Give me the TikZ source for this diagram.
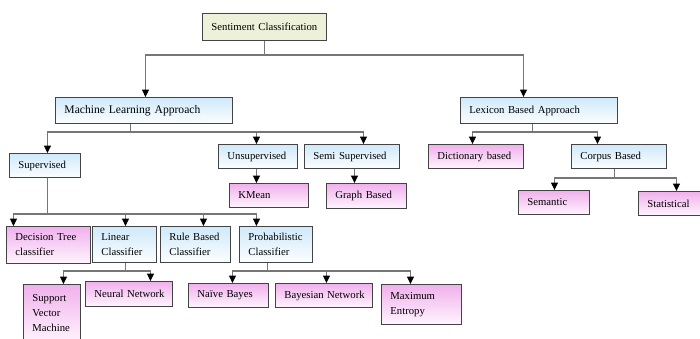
\documentclass[tikz,border=0pt]{standalone}
\usepackage{fontspec}
\setmainfont{Liberation Serif}
\usetikzlibrary{arrows.meta,calc}
\definecolor{pinkT}{HTML}{F0B0EC}
\definecolor{pinkB}{HTML}{FFF4FE}
\definecolor{blueT}{HTML}{CFE9FA}
\definecolor{blueB}{HTML}{FBFEFF}
\definecolor{greenF}{HTML}{EDF1D9}
\definecolor{lineC}{HTML}{767676}
\definecolor{bordC}{HTML}{444444}
\hyphenpenalty=10000
\exhyphenpenalty=10000
\tikzset{
  bx/.style={draw=bordC, line width=0.9pt, anchor=north west, inner xsep=9pt, inner ysep=0pt,
    align=left, font=\fontsize{10.7}{15}\selectfont},
  pk/.style={bx, top color=pinkT, bottom color=pinkB},
  bl/.style={bx, top color=blueT, bottom color=blueB},
  gr/.style={bx, fill=greenF},
  sz/.style 2 args={text width=#1pt, minimum height=#2pt},
  ln/.style={draw=lineC, line width=1.3pt},
  arr/.style={ln, -{Triangle[width=7pt,length=7.5pt,color=black]}}
}
\begin{document}
\begin{tikzpicture}[x=1pt,y=1pt]
\useasboundingbox (0,0) rectangle (700,338);
\clip (0,0) rectangle (700,338);
\fill[white] (0,0) rectangle (700,338);
% nodes (x, 338-y); text width = box width - 18
\node[gr, sz={106}{27}] (sc)   at (202,325) {\mbox{Sentiment Classification}};
\node[bl, sz={159}{26}, font=\fontsize{11.6}{15}\selectfont] (ml) at (55,241) {\mbox{Machine Learning Approach}};
\node[bl, sz={139}{26}] (lex)  at (460,241) {\mbox{Lexicon Based Approach}};
\node[bl, sz={53}{24}]  (sup)  at (9,185)   {Supervised};
\node[bl, sz={61}{24}]  (uns)  at (218,194) {Unsupervised};
\node[bl, sz={77}{24}]  (semi) at (304,194) {\mbox{Semi Supervised}};
\node[pk, sz={61}{24}]  (km)   at (229,155) {KMean};
\node[pk, sz={62}{25}]  (gb)   at (326,155) {\mbox{Graph Based}};
\node[pk, sz={77}{24}]  (dict) at (428,194) {\mbox{Dictionary based}};
\node[bl, sz={77}{24}]  (corp) at (571,194) {\mbox{Corpus Based}};
\node[pk, sz={53}{24}]  (sem)  at (518,148) {Semantic};
\node[pk, sz={46}{24}]  (stat) at (638,147) {Statistical};
\node[pk, sz={66}{37}]  (dt)   at (6,112)   {\mbox{Decision Tree}\\classifier};
\node[bl, sz={46}{36}]  (lin)  at (92,112)  {Linear\\Classifier};
\node[bl, sz={52}{36}]  (rule) at (160,112) {\mbox{Rule Based}\\Classifier};
\node[bl, sz={55}{36}]  (prob) at (239,112) {Probabilistic\\Classifier};
\node[pk, sz={39}{58}]  (svm)  at (23,54)   {Support\\Vector\\Machine};
\node[pk, sz={69}{25}]  (nn)   at (85,57)   {\mbox{Neural Network}};
\node[pk, sz={62}{24}]  (nb)   at (188,55)  {\mbox{Naïve Bayes}};
\node[pk, sz={79}{24}]  (bn)   at (275,55)  {\mbox{Bayesian Network}};
\node[pk, sz={62}{40}]  (me)   at (381,54)  {Maximum\\Entropy};
% connectors
\coordinate (b1) at ($(sc.south)+(0,-14)$);
\draw[ln] (sc.south) -- (b1);
\draw[arr] (b1) -| ([xshift=1.5pt]ml.north);
\draw[arr] (b1) -| ([xshift=-15.5pt]lex.north);
\coordinate (b2) at ($([xshift=-13.5pt]ml.south)+(0,-8)$);
\draw[ln] ([xshift=-13.5pt]ml.south) -- (b2);
\draw[arr] (b2) -| ([xshift=2.5pt]sup.north);
\draw[arr] (b2) -| ([xshift=-1.5pt]uns.north);
\draw[arr] (b2) -| ([xshift=11.5pt]semi.north);
\draw[arr] ([xshift=-1.5pt]uns.south) -- ([xshift=-1.5pt]uns.south |- km.north);
\draw[arr] ([xshift=2.5pt]semi.south) -- ([xshift=2.5pt]semi.south |- gb.north);
\coordinate (b3) at ($([xshift=-6.5pt]lex.south)+(0,-8)$);
\draw[ln] ([xshift=-6.5pt]lex.south) -- (b3);
\draw[arr] (b3) -| ([xshift=-3.5pt]dict.north);
\draw[arr] (b3) -| ([xshift=-21.5pt]corp.north);
\coordinate (b4) at ($([xshift=-4.5pt]corp.south)+(0,-9)$);
\draw[ln] ([xshift=-4.5pt]corp.south) -- (b4);
\draw[arr] (b4) -| ([xshift=0.5pt]sem.north);
\draw[arr] (b4) -| ([xshift=6pt]stat.north);
\coordinate (b5) at ($([xshift=2.5pt]sup.south)+(0,-36)$);
\draw[ln] ([xshift=2.5pt]sup.south) -- (b5);
\draw[arr] (b5) -| ([xshift=-35pt]dt.north);
\draw[arr] (b5) -| ([xshift=1pt]lin.north);
\draw[arr] (b5) -| ([xshift=8pt]rule.north);
\draw[arr] (b5) -| ([xshift=-19.5pt]prob.north);
\coordinate (b6) at ($([xshift=1pt]lin.south)+(0,-8)$);
\draw[ln] ([xshift=1pt]lin.south) -- (b6);
\draw[arr] (b6) -| ([xshift=11.5pt]svm.north);
\draw[arr] (b6) -| ([xshift=21.5pt]nn.north);
\coordinate (b7) at ($([xshift=-8.5pt]prob.south)+(0,-8)$);
\draw[ln] ([xshift=-8.5pt]prob.south) -- (b7);
\draw[arr] (b7) -| ([xshift=4pt]nb.north);
\draw[arr] (b7) -| ([xshift=2.5pt]bn.north);
\draw[arr] (b7) -| ([xshift=-11pt]me.north);
\end{tikzpicture}
\end{document}
